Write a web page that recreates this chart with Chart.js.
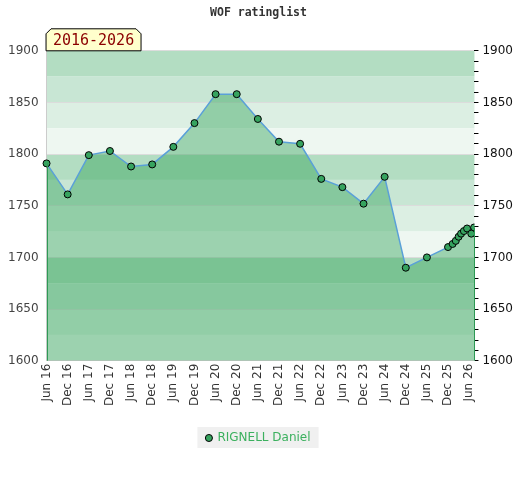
<!DOCTYPE html>
<html>
<head>
<meta charset="utf-8">
<script src="https://cdn.jsdelivr.net/npm/chart.js@4/dist/chart.umd.min.js"></script>
<style>
  html, body { margin: 0; padding: 0; background: #fff; }
  #wrap { width: 520px; height: 480px; }
</style>
</head>
<body>
<div id="wrap"><canvas id="myChart"></canvas></div>
<script>
// months counted from Jun 2016
const months = [0, 6, 12, 18, 24, 30, 36, 42, 48, 54, 60, 66, 72, 78, 84, 90, 96, 102, 108, 114,
                115.3, 116.2, 117, 117.7, 118.5, 119.4, 120.6, 121.4];
const ratings = [1791, 1761, 1799, 1803, 1788, 1790, 1807, 1830, 1858, 1858, 1834, 1812, 1810, 1776,
                 1768, 1752, 1778, 1690, 1700, 1710,
                 1713, 1716, 1720, 1723, 1725.5, 1728, 1723, 1729];
const tickLabels = ['Jun 16', 'Dec 16', 'Jun 17', 'Dec 17', 'Jun 18', 'Dec 18', 'Jun 19', 'Dec 19',
                    'Jun 20', 'Dec 20', 'Jun 21', 'Dec 21', 'Jun 22', 'Dec 22', 'Jun 23', 'Dec 23',
                    'Jun 24', 'Dec 24', 'Jun 25', 'Dec 25', 'Jun 26'];
const playerName = 'RIGNELL Daniel';
const periodLabel = '2016-2026';

// background stripes, 25 points each, repeating every 100
const bandColors = ['#b3ddc2', '#c8e6d4', '#dcefe3', '#eef7f1'];

const bgPlugin = {
  id: 'bg',
  beforeDraw(chart) {
    const {ctx, chartArea: a, scales: {y}} = chart;
    ctx.save();
    let i = 0;
    for (let v = 1900; v > 1600; v -= 25) {
      const t = y.getPixelForValue(v), b = y.getPixelForValue(v - 25);
      ctx.fillStyle = bandColors[i % 4];
      ctx.fillRect(a.left, t, a.right - a.left, b - t);
      i++;
    }
    // legend backdrop
    const hb = chart.legend.legendHitBoxes[0];
    if (hb) {
      ctx.fillStyle = '#f0f0f0';
      ctx.fillRect(hb.left - 9, hb.top - 5, hb.width + 17, hb.height + 9);
    }
    ctx.restore();
  },
  afterDatasetsDraw(chart) {
    const {ctx, scales: {x, y}} = chart;
    ctx.save();
    ctx.strokeStyle = '#2e9a55';
    ctx.lineWidth = 1;
    [0, months.length - 1].forEach(i => {
      const px = Math.round(x.getPixelForValue(months[i])) + 0.5;
      ctx.beginPath();
      ctx.moveTo(px, y.getPixelForValue(ratings[i]));
      ctx.lineTo(px, y.getPixelForValue(1600));
      ctx.stroke();
    });
    ctx.restore();
  },
  afterDraw(chart) {
    const {ctx, chartArea: a} = chart;
    const l = a.left - 0.5, r = l + 95, b = a.top, t = a.top - 22;
    ctx.save();
    ctx.beginPath();
    ctx.moveTo(l, b);
    ctx.lineTo(l, t + 5);
    ctx.lineTo(l + 5, t);
    ctx.lineTo(r - 5, t);
    ctx.lineTo(r, t + 5);
    ctx.lineTo(r, b);
    ctx.closePath();
    ctx.fillStyle = '#ffffcc';
    ctx.fill();
    ctx.strokeStyle = '#000';
    ctx.lineWidth = 1;
    ctx.stroke();
    ctx.fillStyle = '#8b0000';
    ctx.font = '15px "DejaVu Sans Mono"';
    ctx.textAlign = 'center';
    ctx.textBaseline = 'middle';
    ctx.fillText(periodLabel, (l + r) / 2, t + 12);
    ctx.restore();
  }
};

const ctx = document.getElementById('myChart');
new Chart(ctx, {
  type: 'line',
  data: {
    datasets: [{
      label: playerName,
      data: months.map((m, i) => ({x: m, y: ratings[i]})),
      borderColor: '#5aa0d8',
      borderWidth: 1.5,
      backgroundColor: 'rgba(42,160,83,0.42)',
      fill: 'start',
      tension: 0,
      clip: { left: 5, right: 0, top: 5, bottom: 0 },
      pointRadius: 3.5,
      pointBackgroundColor: '#36a35f',
      pointBorderColor: '#000',
      pointBorderWidth: 1
    }]
  },
  options: {
    responsive: true,
    maintainAspectRatio: false,
    animation: false,
    layout: { padding: { left: 0, right: 3, top: 0, bottom: 26 } },
    plugins: {
      title: {
        display: true,
        text: 'WOF ratinglist',
        color: '#333',
        font: { family: 'DejaVu Sans Mono', size: 11.5, weight: 'bold' },
        padding: { top: 6, bottom: 31 }
      },
      legend: {
        position: 'bottom',
        labels: {
          usePointStyle: true,
          pointStyle: 'circle',
          boxWidth: 5,
          boxHeight: 5,
          color: '#3bb05e',
          font: { family: 'DejaVu Sans', size: 12 },
          padding: 23
        }
      },
      tooltip: { enabled: false }
    },
    scales: {
      x: {
        type: 'linear',
        min: 0,
        max: 121.5,
        afterBuildTicks: axis => { axis.ticks = tickLabels.map((_, i) => ({value: i * 6})); },
        ticks: {
          autoSkip: false,
          minRotation: 90,
          maxRotation: 90,
          color: '#333',
          font: { family: 'DejaVu Sans', size: 12 },
          callback: v => tickLabels[Math.round(v / 6)]
        },
        grid: { display: false, drawTicks: false },
        border: { color: '#ccc' }
      },
      y: {
        min: 1600,
        max: 1900,
        ticks: {
          stepSize: 50,
          color: '#444',
          padding: 8,
          font: { family: 'DejaVu Sans', size: 12 },
          callback: v => String(v)
        },
        grid: { color: '#dcdcdc', drawTicks: false },
        border: { color: '#ccc' }
      },
      y2: {
        position: 'right',
        min: 1600,
        max: 1900,
        ticks: {
          stepSize: 10,
          autoSkip: false,
          color: '#111',
          padding: 4,
          font: { family: 'DejaVu Sans', size: 12 },
          callback: v => (v % 50 === 0 ? String(v) : '')
        },
        grid: { drawOnChartArea: false, tickLength: 4, color: '#000', tickColor: '#000' },
        border: { display: false }
      }
    }
  },
  plugins: [bgPlugin]
});
</script>
</body>
</html>
